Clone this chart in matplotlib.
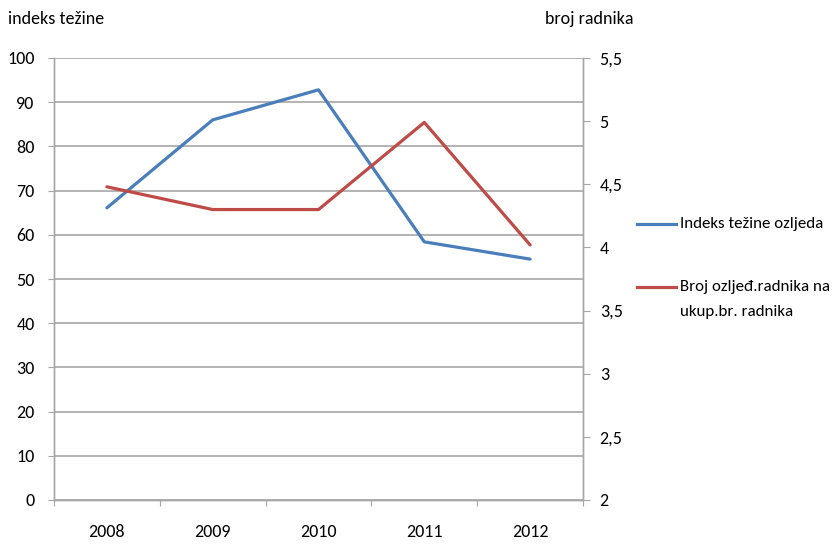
import matplotlib
matplotlib.use("Agg")
import matplotlib.pyplot as plt
import matplotlib.ticker as mtick
from matplotlib.lines import Line2D
import numpy as np

plt.rcParams['font.family'] = ['Carlito', 'Liberation Sans Narrow', 'DejaVu Sans']

years = ['2008', '2009', '2010', '2011', '2012']
indeks_tezine = [66.1, 86.0, 92.8, 58.4, 54.5]      # left axis
broj_radnika = [4.48, 4.30, 4.30, 4.99, 4.02]        # right axis
left_ticks = [0, 10, 20, 30, 40, 50, 60, 70, 80, 90, 100]
right_ticks = [2, 2.5, 3, 3.5, 4, 4.5, 5, 5.5]
label_blue = 'Indeks težine ozljeda'
label_red = ['Broj ozljeđ.radnika na', 'ukup.br. radnika']

blue = '#4A7EBB'
red = '#BE4B48'
grid_col = '#A6A6A6'
W, H = 835, 548

fig = plt.figure(figsize=(W / 100, H / 100), dpi=100)
ax = fig.add_axes([54 / W, 48 / H, 529 / W, 442 / H])
ax2 = ax.twinx()

x = np.arange(len(years))
ax.plot(x, indeks_tezine, color=blue, lw=2.3, solid_capstyle='round')
ax2.plot(x, broj_radnika, color=red, lw=2.3, solid_capstyle='round')

ax.set_xlim(-0.5, len(years) - 0.5)
ax.set_ylim(0, 100)
ax2.set_ylim(2, 5.5)
ax.set_yticks(left_ticks)
ax2.set_yticks(right_ticks)
ax2.yaxis.set_major_formatter(mtick.FuncFormatter(lambda v, p: ('%g' % v).replace('.', ',')))

# category labels between boundary ticks
ax.set_xticks(np.arange(-0.5, len(years), 1.0))
ax.set_xticklabels([])
ax.set_xticks(x, minor=True)
ax.set_xticklabels(years, minor=True)
ax.tick_params(axis='x', which='major', length=4.5, color=grid_col, direction='out')
ax.tick_params(axis='x', which='minor', length=0, pad=17, labelsize=13)
ax.tick_params(axis='y', length=4.5, color=grid_col, labelsize=13, pad=9.5)
ax2.tick_params(axis='y', length=5, color=grid_col, labelsize=13, pad=7)

ax.yaxis.grid(True, color=grid_col, lw=1.2)
ax.set_axisbelow(True)
for a in (ax, ax2):
    a.spines['top'].set_visible(False)
    for s in ('left', 'right', 'bottom'):
        a.spines[s].set_color(grid_col)
        a.spines[s].set_linewidth(1.0)

def fy(py):
    return 1 - py / H

fig.text(8 / W, fy(19), 'indeks težine', fontsize=13, va='center')
fig.text(545 / W, fy(19), 'broj radnika', fontsize=13, va='center')

# legend drawn by hand so the red key sits on the first text line
fig.add_artist(Line2D([637 / W, 676 / W], [fy(224), fy(224)], color=blue, lw=2.3))
fig.text(680 / W, fy(224), label_blue, fontsize=12.2, va='center')
fig.add_artist(Line2D([637 / W, 676 / W], [fy(287), fy(287)], color=red, lw=2.3))
fig.text(680 / W, fy(287), label_red[0], fontsize=12.2, va='center')
fig.text(680 / W, fy(312), label_red[1], fontsize=12.2, va='center')

fig.savefig('out.png', dpi=100)
